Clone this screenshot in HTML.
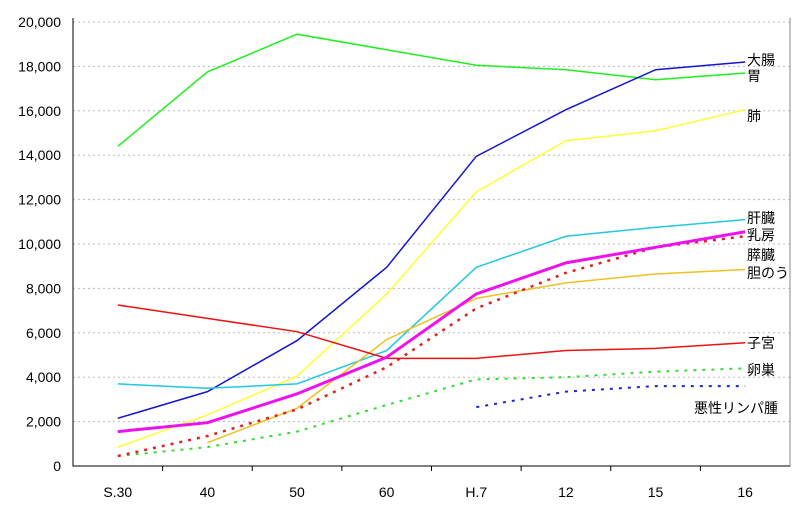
<!DOCTYPE html>
<html><head><meta charset="utf-8"><style>
body{margin:0;background:#fff}
svg text{font-family:"Liberation Sans","Noto Sans CJK JP",sans-serif;font-size:14px;fill:#000}
</style></head><body>
<svg id="c" width="800" height="509"></svg>
<script>
const categories=["S.30","40","50","60","H.7","12","15","16"];
const yTicks=[0,2000,4000,6000,8000,10000,12000,14000,16000,18000,20000];
const colon=[2150,3350,5650,8950,13950,16050,17850,18200];
const stomach=[14400,17750,19450,18750,18050,17850,17400,17700];
const lung=[850,2300,4050,7750,12350,14650,15100,16050];
const liver=[3700,3500,3700,5200,8950,10350,10750,11100];
const breast=[1550,1950,3250,4900,7750,9150,9850,10550];
const pancreas=[450,1350,2550,4450,7100,8700,9850,10350];
const gallbladder=[null,1050,2600,5700,7550,8250,8650,8850];
const uterus=[7250,6650,6050,4850,4850,5200,5300,5550];
const ovary=[450,850,1550,2750,3900,4000,4250,4400];
const lymphoma=[null,null,null,null,2650,3350,3600,3600];
const NS="http://www.w3.org/2000/svg",svg=document.getElementById('c');
const L=73,R=790,T=22,B=466,bw=(R-L)/categories.length;
const x=i=>L+(i+0.5)*bw, y=v=>B-v*(B-T)/20000;
function el(t,a,p){const e=document.createElementNS(NS,t);for(const k in a)e.setAttribute(k,a[k]);(p||svg).appendChild(e);return e;}
yTicks.forEach(v=>{
 if(v>0){const g=el('line',{x1:L,x2:R,y1:y(v),y2:y(v),stroke:'#bbb','stroke-dasharray':'2,3'});
 
 }
 const t=el('text',{x:L-12,y:y(v)+5,'text-anchor':'end'});t.textContent=v.toLocaleString('en-US');
 
 
});
const ax=el('path',{d:`M${L},${T-4}V${B}H${R}V${T-4}`,fill:'none',stroke:'#000'});


const rb=el('line',{x1:R,x2:R,y1:T-4,y2:B,stroke:'#888'});


categories.forEach((c,i)=>{
 if(i>0){const tk=el('line',{x1:L+i*bw,x2:L+i*bw,y1:B,y2:B+5,stroke:'#000'});
 
 }
 const t=el('text',{x:x(i),y:B+31,'text-anchor':'middle'});t.textContent=c;
 
 
});
const series=[
 [stomach,'#22ee22',1.5,null,'胃',76,'stomach'],
 [colon,'#1515cc',1.5,null,'大腸',60,'colon'],
 [lung,'#ffff33',1.5,null,'肺',116,'lung'],
 [liver,'#22c8e0',1.5,null,'肝臓',218,'liver'],
 [gallbladder,'#f0c020',1.5,null,'胆のう',273,'gallbladder'],
 [uterus,'#ee1111',1.5,null,'子宮',343,'uterus'],
 [ovary,'#33dd33',2,'3,6','卵巣',370,'ovary'],
 [lymphoma,'#2222cc',2,'3,6','悪性リンパ腫',408,'lymphoma'],
 [pancreas,'#dd2222',2.5,'3,6','膵臓',255,'pancreas'],
 [breast,'#ee11ee',3,null,'乳房',235,'breast']
];
series.forEach(([d,col,w,dash,name,ly,id])=>{
 const pts=d.map((v,i)=>v==null?null:x(i)+','+y(v)).filter(p=>p);
 const a={points:pts.join(' '),fill:'none',stroke:col,'stroke-width':w};
 if(dash)a['stroke-dasharray']=dash;
 const p=el('polyline',a);
 
 
 const t=el('text',{x:name.length>4?694:747,y:ly+5});t.textContent=name;
 
 
});
</script>
</body></html>
